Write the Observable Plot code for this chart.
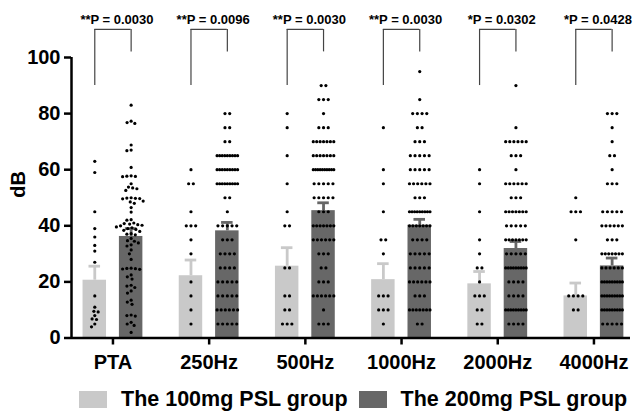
<!DOCTYPE html>
<html><head><meta charset="utf-8">
<script src="https://cdn.jsdelivr.net/npm/d3@7"></script>
<script src="https://cdn.jsdelivr.net/npm/@observablehq/plot@0.6"></script>
<style>
body{margin:0;background:#fff;font-family:"Liberation Sans",Arial,sans-serif;}
#legend{display:flex;align-items:center;height:38px;padding-left:79px;font-weight:bold;font-size:21.5px;color:#000;white-space:nowrap;}
.sw{width:28px;height:17px;margin-right:14px;flex:none;}
.lab{margin-right:11px;}
</style></head><body><div id="chart"></div><div id="legend"></div>
<script>
const categories = ["PTA","250Hz","500Hz","1000Hz","2000Hz","4000Hz"];
const groups = ["The 100mg PSL group","The 200mg PSL group"];
const groupColors = ["#c9c9c9","#676767"];
const mean100 = [20.6, 22.2, 25.6, 20.8, 19.3, 15.0];
const sem100  = [5.0, 5.6, 6.6, 5.7, 4.4, 4.6];
const mean200 = [36.2, 38.2, 45.4, 40.2, 31.9, 25.7];
const sem200  = [2.8, 3.0, 2.8, 2.1, 2.5, 2.8];
const stars = ["**","**","**","**","*","*"];
const pValues = ["0.0030","0.0096","0.0030","0.0030","0.0302","0.0428"];

// individual subjects (dB)
const pta100 = [63, 59, 45, 39, 36, 33, 31, 27, 15, 11, 9.5, 9.3, 8, 6.8, 6.6, 5, 4];
const pta200 = [83, 77.3, 76.8, 76.5, 68.8, 67, 66.8, 60.8, 57.8, 57.7, 57.6, 57.5, 55, 53.8, 53.5, 53.2, 52.6,
  50, 49.9, 49.8, 49.7, 49.6, 48.8, 48.5, 48, 46.5, 44.9, 42.2, 42, 41, 40.8, 40.6, 40.4, 40.2, 40, 39.6, 39.3,
  39, 38.7, 38.4, 38, 37.2, 37, 36.8, 35.5, 34.7, 34.5, 33.9, 33.2, 32.8, 31.4, 30, 28, 24.9, 24.8, 24.7, 24.6,
  24.5, 22.5, 21.8, 21, 18.8, 18.5, 18, 16.8, 16, 13.5, 12.8, 12, 8.2, 8, 7.8, 5.6, 5, 4.5, 2];
const hz250_100 = [60, 55, 55, 45, 40, 40, 40, 35, 30, 20, 15, 10, 5];
const hz250_200 = [80,80, 75,75, 70,70, 65,65,65,65,65,65,65,65,65, 60,60,60,60,60,60,60,60,60,
  55,55,55,55,55,55,55,55,55, 50,50, 45, 40,40,40,40,40, 35,35,35, 30,30,30,30, 25,25,25,25,
  20,20,20,20,20, 15,15,15,15,15, 10,10,10,10,10,10, 5,5,5,5,5];
const hz500_100 = [80, 75, 65, 55, 45, 40, 40, 25, 25, 15, 15, 10, 10, 5, 5, 5];
const hz500_200 = [90,90, 85,85,85, 80, 75,75,75, 70,70,70,70,70,70,70, 65,65,65,65,65,65,65,
  60,60,60,60,60,60,60,60,60,60, 55,55,55,55,55, 50,50,50,50,50, 45,45,45, 40,40,40,40,40,40,40,
  35,35,35,35,35,35, 30,30,30, 25,25, 20,20,20, 15,15,15,15,15,15, 10, 5,5,5];
const hz1000_100 = [75, 60, 55, 45, 35, 35, 30, 15, 15, 15, 10, 10, 10, 5];
const hz1000_200 = [95, 85, 80,80,80,80, 75,75, 70,70,70, 65,65,65,65,65, 60,60,60,60,60,
  55,55,55,55,55,55, 50,50,50, 45,45,45,45,45,45,45,45,45, 40,40,40,40,40,40,40, 35,35,35,35,
  30,30,30,30,30, 25,25,25,25,25, 20,20,20,20,20,20, 15,15,15, 10,10,10,10,10,10,10, 5,5];
const hz2000_100 = [60, 55, 45, 35, 30, 25, 25, 20, 15, 15, 15, 10, 10, 5, 5];
const hz2000_200 = [90, 75, 70,70,70,70,70,70, 65,65,65, 60, 55,55,55,55,55,55, 50,50,50,
  45,45,45,45,45,45,45, 40,40,40,40,40, 35,35,35,35,35,35,35, 30,30,30,30,30,
  25,25,25,25,25,25,25,25,25, 20,20,20,20, 15,15,15,15, 10,10,10,10,10,10,10,10,10, 5,5,5,5];
const hz4000_100 = [50, 45, 45, 45, 35, 15, 15, 15, 15, 10, 10];
const hz4000_200 = [80,80,80, 75, 70, 65,65, 60, 55,55,55, 45,45,45,45,45, 40,40,40,40,40,40,
  35,35,35, 30,30,30,30,30,30,30, 25,25,25,25,25,25, 20,20,20,20,20,20,20,20,20,
  15,15,15,15,15,15,15,15,15, 10,10,10,10,10,10,10,10,10, 5,5,5,5,5];

const subjects100 = [pta100, hz250_100, hz500_100, hz1000_100, hz2000_100, hz4000_100];
const subjects200 = [pta200, hz250_200, hz500_200, hz1000_200, hz2000_200, hz4000_200];

// layout
const W = 634, H = 380, mL = 71, mR = 4, mT = 57, mB = 42.5;
const xDomain = [-0.431, 5.38];
const pxX = (W - mL - mR) / (xDomain[1] - xDomain[0]);
const pxY = (H - mT - mB) / 100;
const off = 0.189, halfW = 0.122, capHalf = 0.06;
const gOff = [-off, off];

function spread(values) {
  const discrete = values.every(v => v % 5 === 0);
  const out = [];
  if (discrete) {
    const rows = d3.group(values, v => v);
    for (const [v, arr] of rows) {
      const n = arr.length;
      const sp = n > 1 ? Math.min(4.7, 20.5 / (n - 1)) : 0;
      arr.forEach((_, k) => out.push({v, dx: (k - (n - 1) / 2) * sp}));
    }
  } else {
    const d = 4.3;
    const sorted = values.slice().sort((a, b) => b - a);
    const placed = [];
    for (const v of sorted) {
      const forb = [];
      for (const p of placed) {
        const dy = Math.abs(p.v - v) * pxY;
        if (dy < d) { const w = Math.sqrt(d * d - dy * dy); forb.push([p.dx - w, p.dx + w]); }
      }
      const cands = [0];
      forb.forEach(([a, b]) => { cands.push(a, b); });
      cands.sort((a, b) => Math.abs(a) - Math.abs(b));
      let x = 0;
      for (const c of cands) {
        if (forb.every(([a, b]) => c <= a + 1e-6 || c >= b - 1e-6)) { x = c; break; }
      }
      placed.push({v, dx: x});
      out.push({v, dx: x});
    }
  }
  return out;
}

const bars = [], dots = [];
categories.forEach((c, i) => {
  [[mean100, sem100, subjects100], [mean200, sem200, subjects200]].forEach(([m, s, subj], g) => {
    const cx = i + gOff[g];
    bars.push({g, cx, mean: m[i], top: m[i] + s[i]});
    spread(subj[i]).forEach(p => dots.push({x: cx + p.dx / pxX, y: p.v}));
  });
});
const sig = categories.map((c, i) => ({i, left: i - off, right: i + off, text: stars[i] + "P = " + pValues[i]}));
const bracketTop = 110, leftEnd = 90, rightEnd = 102;

const plot = Plot.plot({
  width: W, height: H,
  marginLeft: mL, marginRight: mR, marginTop: mT, marginBottom: mB,
  x: {type: "linear", domain: xDomain},
  y: {domain: [0, 100]},
  style: {fontFamily: "'Liberation Sans', Arial, sans-serif", fontWeight: "bold", fontSize: "20px", color: "#000", background: "#fff"},
  marks: [
    Plot.rectY(bars.filter(d => d.g === 0), {x1: d => d.cx - halfW, x2: d => d.cx + halfW, y1: 0, y2: "mean", fill: groupColors[0]}),
    Plot.rectY(bars.filter(d => d.g === 1), {x1: d => d.cx - halfW, x2: d => d.cx + halfW, y1: 0, y2: "mean", fill: groupColors[1]}),
    Plot.ruleX(bars, {x: "cx", y1: "mean", y2: "top", stroke: d => groupColors[d.g], strokeWidth: 2.8}),
    Plot.ruleY(bars, {y: "top", x1: d => d.cx - capHalf, x2: d => d.cx + capHalf, stroke: d => groupColors[d.g], strokeWidth: 2.8}),
    Plot.dot(dots, {x: "x", y: "y", r: 1.6, fill: "#000"}),
    Plot.ruleY(sig, {y: bracketTop, x1: "left", x2: "right", stroke: "#444", strokeWidth: 1.2}),
    Plot.ruleX(sig, {x: "left", y1: bracketTop, y2: leftEnd, stroke: "#444", strokeWidth: 1.2}),
    Plot.ruleX(sig, {x: "right", y1: bracketTop, y2: rightEnd, stroke: "#444", strokeWidth: 1.2}),
    Plot.text(sig, {x: "i", y: 113.6, text: "text", fontSize: 13, dx: 4, ariaLabel: "pvalue"}),
    Plot.axisY({ticks: [0, 20, 40, 60, 80, 100], tickSize: 7, tickPadding: 4, strokeWidth: 2.5, label: null, fontSize: 20}),
    Plot.axisX({ticks: d3.range(categories.length), tickFormat: i => categories[i], tickSize: 7, tickPadding: 10, strokeWidth: 2.5, label: null, fontSize: 20}),
    Plot.ruleY([0], {strokeWidth: 2.5}),
    Plot.ruleX([xDomain[0]], {y1: 0, y2: 100, strokeWidth: 2.5}),
    Plot.text(["dB"], {frameAnchor: "left", dx: -53, rotate: -90, fontSize: 20})
  ]
});
// italic P in significance labels
plot.querySelectorAll('g[aria-label="pvalue"] text').forEach(t => {
  const s = t.textContent; const k = s.indexOf("P");
  t.textContent = "";
  const ns = "http://www.w3.org/2000/svg";
  const a = document.createElementNS(ns, "tspan"); a.textContent = s.slice(0, k);
  const b = document.createElementNS(ns, "tspan"); b.textContent = "P"; b.setAttribute("font-style", "italic");
  const c = document.createElementNS(ns, "tspan"); c.textContent = s.slice(k + 1);
  t.append(a, b, c);
});
document.getElementById("chart").append(plot);
const leg = document.getElementById("legend");
groups.forEach((g, k) => {
  const sw = document.createElement("span"); sw.className = "sw"; sw.style.background = groupColors[k];
  const lb = document.createElement("span"); lb.className = "lab"; lb.textContent = g;
  leg.append(sw, lb);
});
</script></body></html>
